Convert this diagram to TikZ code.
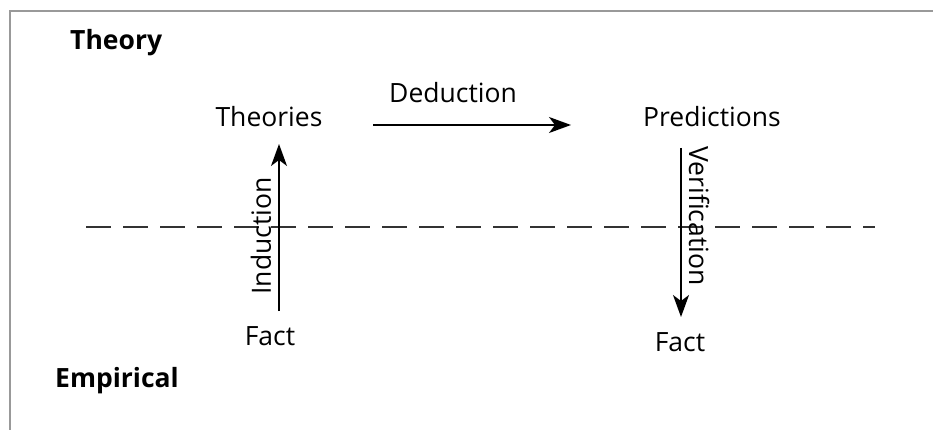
\documentclass[tikz,border=0pt]{standalone}
\usepackage{fontspec}
\setmainfont{Open Sans}
\usetikzlibrary{arrows.meta}
\begin{document}
\begin{tikzpicture}[x=1pt,y=-1pt,
  lbl/.style={inner sep=0pt,font=\fontsize{26.5}{30}\selectfont},
  hdr/.style={inner sep=0pt,anchor=west,font=\fontsize{26.5}{30}\selectfont\bfseries},
  arr/.style={line width=1.5pt,-{Stealth[length=22pt,width=16pt,inset=6pt]}},
  frame/.style={draw=black!40,line width=2pt}]
\useasboundingbox (0,0) rectangle (933,430);
\draw[frame] (933,11) -- (10,11) -- (10,430);
\draw[dash pattern=on 25pt off 12pt,line width=1.2pt,black!80] (86,227) -- (875,227);
\node[hdr] (theory) at (70,43) {Theory};
\node[hdr] (empirical) at (55,381) {Empirical};
\node[lbl] (theories) at (269,117) {Theories};
\node[lbl] (predictions) at (712,117) {Predictions};
\node[lbl] (deduction) at (453,93) {Deduction};
\node[lbl] (factL) at (270,336) {Fact};
\node[lbl] (factR) at (680,342) {Fact};
\node[lbl,rotate=90] (induction) at (261,236) {Induction};
\node[lbl,rotate=-90] (verification) at (699,216) {Verification};
\coordinate (d1) at (373,125);
\coordinate (d2) at (571,125);
\coordinate (i1) at (279,311);
\coordinate (i2) at (279,144);
\coordinate (v1) at (681,148);
\coordinate (v2) at (681,317);
\draw[arr] (d1) -- (d2);
\draw[arr] (i1) -- (i2);
\draw[arr] (v1) -- (v2);
\end{tikzpicture}
\end{document}
